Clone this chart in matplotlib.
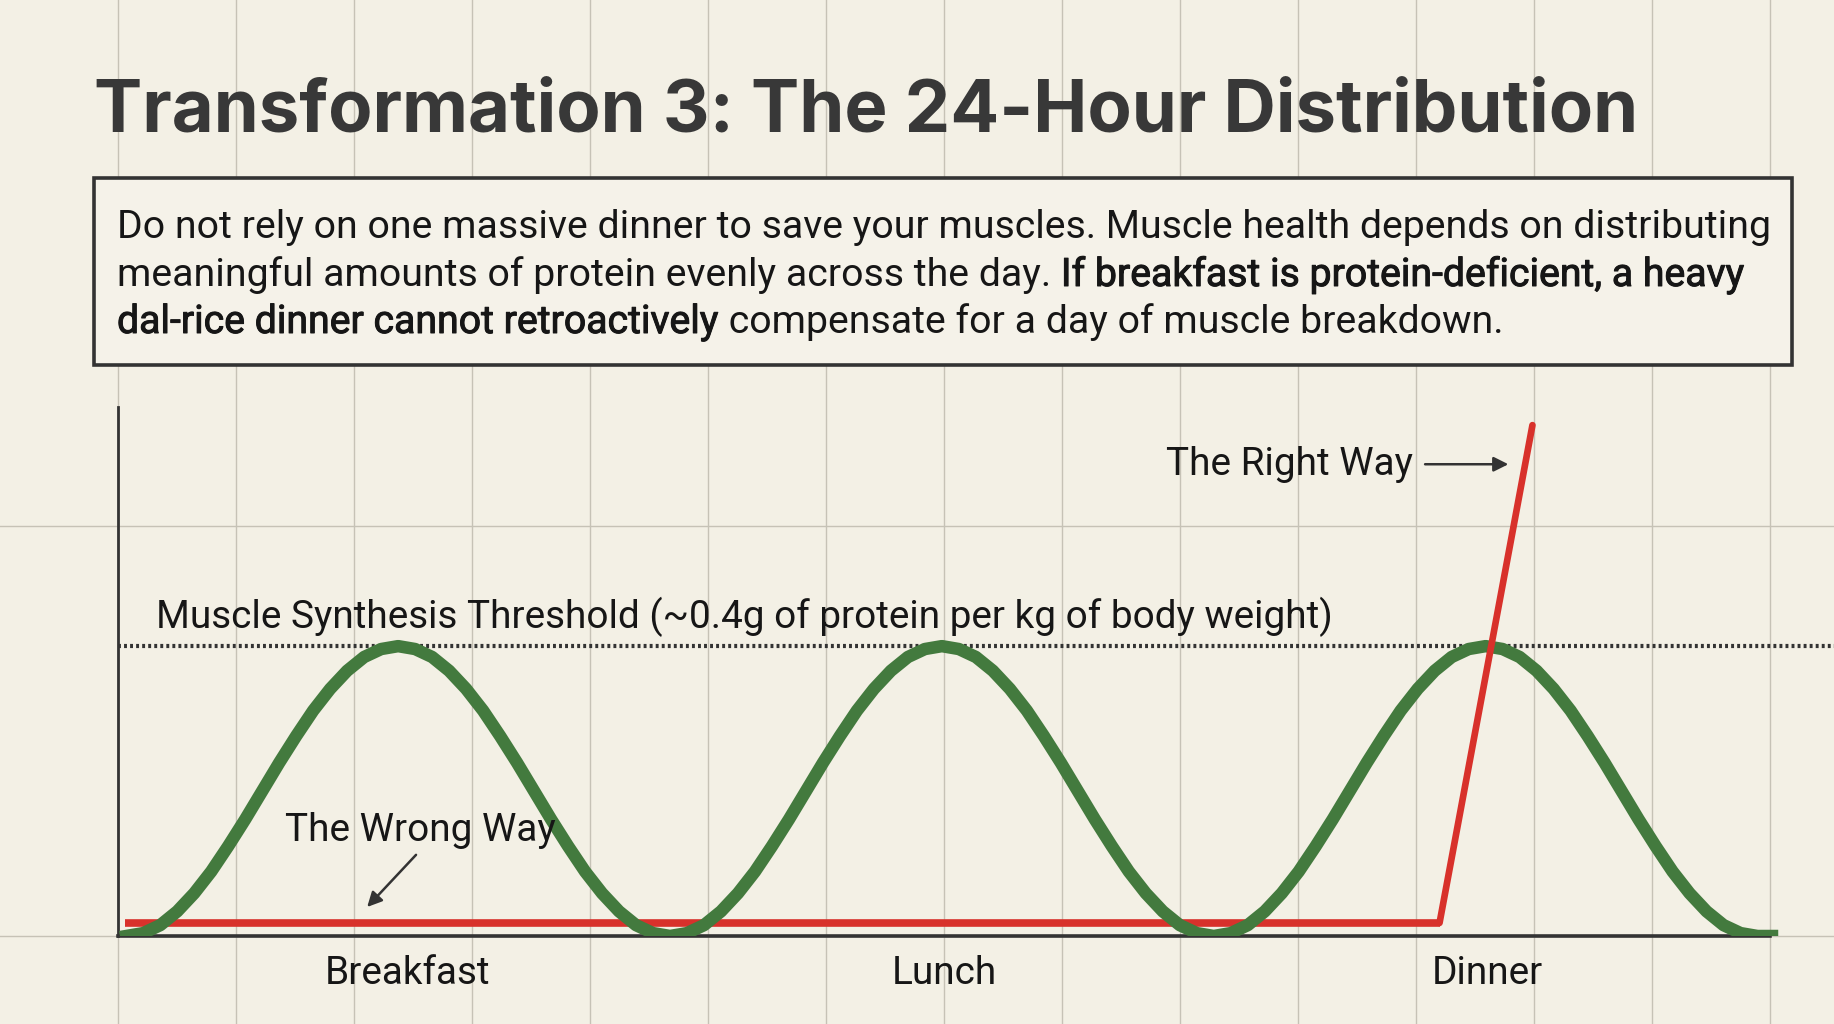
import numpy as np
import matplotlib
matplotlib.use('Agg')
import matplotlib.pyplot as plt
import matplotlib.patheffects as pe
from matplotlib.patches import Rectangle

# chart data (hours of the day, protein level in g/kg)
meal_labels = ['Breakfast', 'Lunch', 'Dinner']
meal_hours = [4.2, 12.0, 19.9]
threshold = 0.4

# one meal wave, sampled every 1/32 of a wave (trough -> peak -> trough)
wave = [0.000, 0.004, 0.015, 0.034, 0.059, 0.089, 0.124, 0.161,
        0.200, 0.239, 0.276, 0.311, 0.341, 0.366, 0.385, 0.396,
        0.400, 0.396, 0.385, 0.366, 0.341, 0.311, 0.276, 0.239,
        0.200, 0.161, 0.124, 0.089, 0.059, 0.034, 0.015, 0.004]
green_level = wave * 3 + [0.000, 0.000]
green_hours = list(0.12 + np.arange(len(wave) * 3 + 1) * 7.9 / 32) + [24.03]

red_hours = [0.1, 19.2, 20.55]
red_level = [0.018, 0.018, 0.705]

title = 'Transformation 3: The 24-Hour Distribution'
# (text, emphasised?)
box_lines = [
    [('Do not rely on one massive dinner to save your muscles. Muscle health depends on distributing', False)],
    [('meaningful amounts of protein evenly across the day. ', False),
     ('If breakfast is protein-deficient, a heavy', True)],
    [('dal-rice dinner cannot retroactively', True),
     (' compensate for a day of muscle breakdown.', False)],
]
threshold_label = 'Muscle Synthesis Threshold (~0.4g of protein per kg of body weight)'

BG = '#F3F0E5'
BOX = '#F5F2E9'
GRID = '#C6C2B6'
DARK = '#333333'
INK = '#161616'
GREEN = '#437A3E'
RED = '#D8312B'
FONT = 'Roboto'

W, H = 1834, 1024
fig = plt.figure(figsize=(W / 100, H / 100), dpi=100)
fig.patch.set_facecolor(BG)
r = fig.canvas.get_renderer()

# background: paper grid, title, text box (pixel coords)
ax_bg = fig.add_axes([0, 0, 1, 1], zorder=0)
ax_bg.set_xlim(0, W)
ax_bg.set_ylim(H, 0)
ax_bg.set_facecolor(BG)
ax_bg.set_xticks(np.arange(118, W, 118))
ax_bg.set_yticks([526, 936])
ax_bg.grid(True, color=GRID, lw=1)
ax_bg.tick_params(length=0, labelbottom=False, labelleft=False)
for s in ax_bg.spines.values():
    s.set_visible(False)


def fit(t, width):
    w = t.get_window_extent(r).width
    t.set_fontsize(t.get_fontsize() * width / w)
    return t.get_fontsize()


t = ax_bg.text(94, 131, title, family='Inter', weight='bold', fontsize=48,
               color='#383838', va='baseline')
fit(t, 1544)

ax_bg.add_patch(Rectangle((94, 178), 1698, 187, fc=BOX, ec=DARK, lw=2.6, zorder=3))

probe = ax_bg.text(0, 0, box_lines[0][0][0], family=FONT, fontsize=26)
body_size = fit(probe, 1652)
probe.remove()

medium = [pe.withStroke(linewidth=0.7, foreground=INK)]
for y, runs in zip([238, 286, 333], box_lines):
    x = 117
    for txt, strong in runs:
        tt = ax_bg.text(x, y, txt, family=FONT, fontsize=body_size, color=INK,
                        va='baseline', zorder=4,
                        path_effects=medium if strong else None)
        x = tt.get_window_extent(r).x1

# chart
ax = fig.add_axes([118 / W, (H - 936) / H, (W - 118) / W, (936 - 407) / H], zorder=1)
ax.set_facecolor('none')
ax.set_xlim(0, (W - 118) / 68.83)
ax.set_ylim(0, 0.73)

ax.axhline(threshold, color=DARK, lw=3, ls=(0, (0.7, 0.75)), zorder=1)
ax.plot(red_hours[:2], red_level[:2], color=RED, lw=5.5, solid_capstyle='butt', zorder=2)
ax.plot(green_hours, green_level, color=GREEN, lw=9, solid_joinstyle='round', zorder=3)
ax.plot(red_hours[1:], red_level[1:], color=RED, lw=4.8, solid_capstyle='round', zorder=4)

lbl = ax.text(0.55, 0.44, threshold_label, family=FONT, fontsize=24, color=INK,
              va='center', ha='left')
lab_size = fit(lbl, 1177)

ax.set_xticks(meal_hours, meal_labels, family=FONT, fontsize=lab_size, color=INK)
ax.set_yticks([])
ax.tick_params(axis='x', length=0, pad=14)

ax.text(18.81, 0.651, 'The Right Way', family=FONT, fontsize=lab_size, color=INK,
        ha='right', va='center')
ax.annotate('', xy=(20.2, 0.651), xytext=(18.99, 0.651),
            arrowprops=dict(arrowstyle='-|>', color=DARK, lw=1.8, mutation_scale=22,
                            shrinkA=0, shrinkB=0))
ax.text(4.4, 0.146, 'The Wrong Way', family=FONT, fontsize=lab_size, color=INK,
        ha='center', va='center')
ax.annotate('', xy=(3.62, 0.040), xytext=(4.33, 0.112),
            arrowprops=dict(arrowstyle='-|>', color=DARK, lw=1.8, mutation_scale=22,
                            shrinkA=0, shrinkB=0))

ax.spines['top'].set_visible(False)
ax.spines['right'].set_visible(False)
ax.spines['bottom'].set_bounds(0, 24)
ax.spines['bottom'].set_color(DARK)
ax.spines['bottom'].set_linewidth(2.6)
ax.spines['left'].set_color(DARK)
ax.spines['left'].set_linewidth(2)

fig.savefig('out.png', dpi=100, facecolor=BG)
